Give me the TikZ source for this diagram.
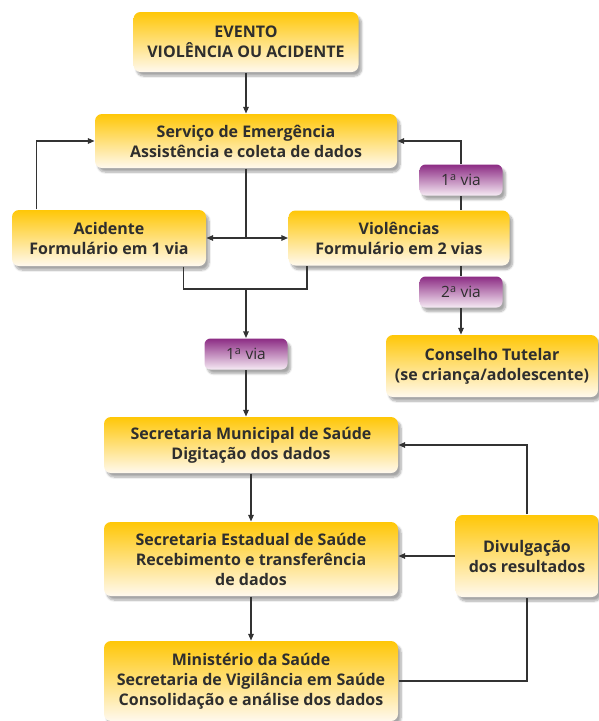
\documentclass[tikz,border=0pt]{standalone}
\usepackage{fontspec}
\setmainfont{Open Sans}
\usepackage{tikz}
\usetikzlibrary{arrows.meta,shapes,calc,shadows.blur}
\definecolor{textGray}{HTML}{2E2E2E}
\definecolor{lineGray}{HTML}{333333}
\definecolor{yellowTop}{HTML}{FFC707}
\definecolor{yellowMid}{HTML}{FFE48A}
\definecolor{yellowBottom}{HTML}{FFF9EE}
\definecolor{purpleTop}{HTML}{8C2C84}
\definecolor{purpleMid}{HTML}{C48DBD}
\definecolor{purpleBottom}{HTML}{F6EAF4}
\newcommand{\ordA}{\textsuperscript{a}}
\tikzset{%
  >={Triangle[width=5.5pt,length=6.5pt]},
  % Specifications for style of nodes:
     base/.style = {rectangle, rounded corners=7pt, inner sep=2pt,
                           text centered, align=center, text=textGray,
                           font=\fontsize{15.5}{20}\selectfont,
                           blur shadow={shadow xshift=3pt, shadow yshift=-4pt,
                                        shadow opacity=35, shadow blur steps=8}},
    stepBox/.style = {base, font=\fontsize{16}{20}\selectfont\bfseries,
                           top color=yellowTop, middle color=yellowMid,
                           bottom color=yellowBottom},
    viaTag/.style = {base, rounded corners=6pt, minimum width=83pt, minimum height=31pt,
                           top color=purpleTop, middle color=purpleMid,
                           bottom color=purpleBottom},
}
\begin{document}
\begin{tikzpicture}[x=1pt, y=-1pt, line width=1.1pt, draw=lineGray]
  \useasboundingbox (0,0) rectangle (598,721);
  % Specification of nodes (position, etc.)
  \node (evento)      [stepBox, minimum width=225pt, minimum height=60pt] at (246,42)
                      {EVENTO\\VIOLÊNCIA OU ACIDENTE};
  \node (servico)     [stepBox, minimum width=302pt, minimum height=54pt] at (246,141)
                      {Serviço de Emergência\\Assistência e coleta de dados};
  \node (acidente)    [stepBox, minimum width=194pt, minimum height=56pt] at (109,238)
                      {Acidente\\Formulário em 1 via};
  \node (violencias)  [stepBox, minimum width=221pt, minimum height=55pt] at (399,238)
                      {Violências\\Formulário em 2 vias};
  \node (viaUm)       [viaTag] at (461,180) {1\ordA{} via};
  \node (viaDois)     [viaTag] at (461,292) {2\ordA{} via};
  \node (conselho)    [stepBox, minimum width=212pt, minimum height=62pt] at (492,366)
                      {Conselho Tutelar\\(se criança/adolescente)};
  \node (viaMunicipal) [viaTag] at (246,354) {1\ordA{} via};

  \node (municipal)   [stepBox, minimum width=294pt, minimum height=56pt] at (251,445)
                      {Secretaria Municipal de Saúde\\Digitação dos dados};
  \node (estadual)    [stepBox, minimum width=294pt, minimum height=74pt] at (251,559)
                      {Secretaria Estadual de Saúde\\Recebimento e transferência\\de dados};
  \node (ministerio)  [stepBox, minimum width=294pt, minimum height=80pt] at (251,681)
                      {Ministério da Saúde\\Secretaria de Vigilância em Saúde\\Consolidação e análise dos dados};
  \node (divulgacao)  [stepBox, minimum width=143pt, minimum height=82pt] at (527,556)
                      {Divulgação\\dos resultados};

  \coordinate (split) at (servico.south |- acidente.east);
  \coordinate (join)  at (246,289);

  % Specification of lines between nodes specified above
  \draw[->] (evento) -- (servico);
  \draw (servico.south) -- (split);
  \draw[->] (split) -- (acidente.east);
  \draw[->] (split) -- (violencias.west);

  \draw[->] ([xshift=25pt]acidente.north west) |- (servico.west);
  \draw (violencias.north -| viaUm.south) -- (viaUm.south);
  \draw[->] (viaUm.north) |- (servico.east);

  \draw ([xshift=-23pt]acidente.south east) |- (join) -| ([xshift=19pt]violencias.south west);
  \draw[->] (join) -- (viaMunicipal.north);
  \draw[->] (viaMunicipal.south) -- (viaMunicipal.south |- municipal.north);

  \draw (violencias.south -| viaDois.north) -- (viaDois.north);
  \draw[->] (viaDois.south) -- (viaDois.south |- conselho.north);

  \draw[->] (municipal) -- (estadual);
  \draw[->] (estadual) -- (ministerio);
  \draw (ministerio.east) -| (divulgacao.south);
  \draw[->] (divulgacao.west) -- (divulgacao.west -| estadual.east);
  \draw[->] (divulgacao.north) |- (municipal.east);
\end{tikzpicture}
\end{document}
